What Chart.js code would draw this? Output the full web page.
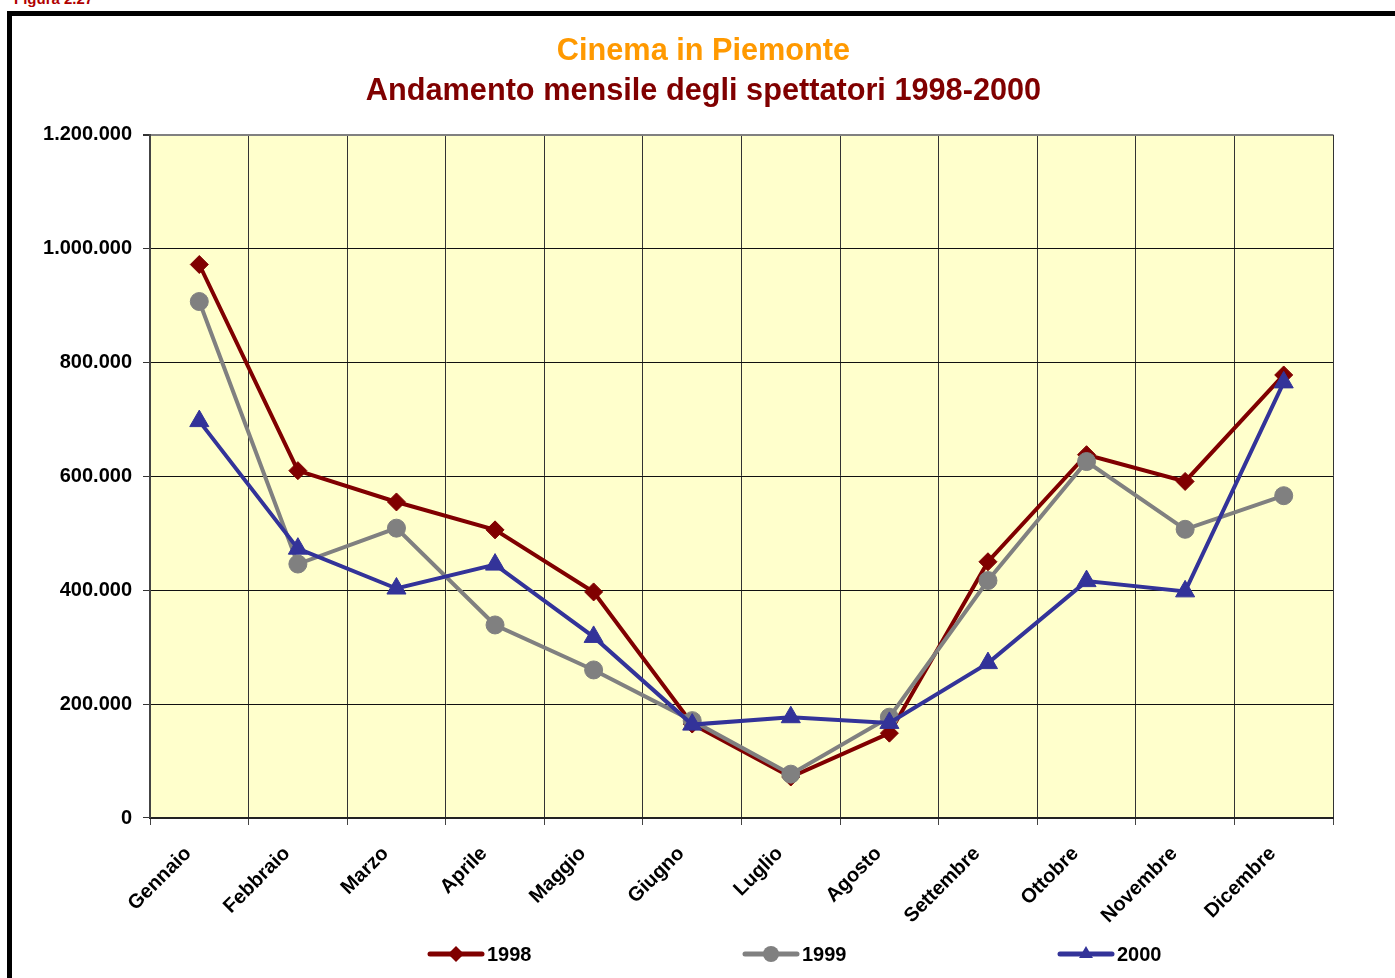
<!DOCTYPE html>
<html>
<head>
<meta charset="utf-8">
<script src="https://cdn.jsdelivr.net/npm/chart.js"></script>
<style>
  html, body { margin: 0; padding: 0; background: #fff; overflow: hidden; width: 1395px; height: 978px; }
  #fig { position: absolute; left: 14px; top: -10px; font: bold 15px "Liberation Sans", Arial, sans-serif; color: #b00000; }
  #frame { position: absolute; left: 7px; top: 11px; width: 1500px; height: 1100px; border: 5px solid #000; box-sizing: border-box; }
  #wrap { position: absolute; left: 12px; top: 16px; width: 1383px; height: 962px; }
</style>
</head>
<body>
<div id="fig">Figura 2.27</div>
<div id="frame"></div>
<div id="wrap"><canvas id="c" width="1383" height="962"></canvas></div>
<script>
const months = ["Gennaio","Febbraio","Marzo","Aprile","Maggio","Giugno","Luglio","Agosto","Settembre","Ottobre","Novembre","Dicembre"];
const seriesNames = ["1998","1999","2000"];
const values1998 = [972000, 610000, 555000, 506000, 397000, 165000, 72000, 149000, 450000, 638000, 591000, 778000];
const values1999 = [907000, 446000, 509000, 339000, 260000, 171000, 77000, 177000, 417000, 626000, 507000, 566000];
const values2000 = [697000, 473000, 403000, 445000, 318000, 164000, 177000, 167000, 272000, 416000, 398000, 765000];
const yMin = 0, yMax = 1200000, yStep = 200000;
const titleText = "Cinema in Piemonte";
const subtitleText = "Andamento mensile degli spettatori 1998-2000";

const FONT = '"Liberation Sans", Arial, sans-serif';
const colors = ["#800000", "#808080", "#333399"];
const styles = ["rectRot", "circle", "triangle"];
const radii = [9, 9, 11];

function fmt(v) { return String(v).replace(/\B(?=(\d{3})+(?!\d))/g, "."); }

const bgPlugin = {
  id: "plotBg",
  beforeDraw(chart) {
    const a = chart.chartArea, ctx = chart.ctx;
    ctx.save();
    ctx.fillStyle = "#FFFFCC";
    ctx.fillRect(a.left, a.top, a.right - a.left, a.bottom - a.top);
    ctx.restore();
  }
};

function drawMarker(ctx, style, x, y, r, color) {
  ctx.save();
  ctx.fillStyle = color;
  ctx.beginPath();
  if (style === "rectRot") {
    ctx.moveTo(x - r, y); ctx.lineTo(x, y - r); ctx.lineTo(x + r, y); ctx.lineTo(x, y + r);
  } else if (style === "circle") {
    ctx.arc(x, y, r, 0, Math.PI * 2);
  } else {
    ctx.moveTo(x, y - r);
    ctx.lineTo(x + r * Math.sqrt(3) / 2, y + r / 2);
    ctx.lineTo(x - r * Math.sqrt(3) / 2, y + r / 2);
  }
  ctx.closePath();
  ctx.fill();
  ctx.restore();
}

const legendPlugin = {
  id: "lineLegend",
  afterDraw(chart) {
    const ctx = chart.ctx;
    const y = chart.height - 24;
    const x0 = chart.chartArea.left + 280;
    chart.data.datasets.forEach((ds, i) => {
      const x = x0 + i * 315;
      ctx.save();
      ctx.strokeStyle = ds.borderColor;
      ctx.lineWidth = 5;
      ctx.lineCap = "round";
      ctx.beginPath();
      ctx.moveTo(x, y); ctx.lineTo(x + 52, y);
      ctx.stroke();
      drawMarker(ctx, styles[i], x + 26, y, 8, ds.borderColor);
      ctx.fillStyle = "#000";
      ctx.font = "bold 20px " + FONT;
      ctx.textBaseline = "middle";
      ctx.textAlign = "left";
      ctx.fillText(ds.label, x + 57, y + 1);
      ctx.restore();
    });
  }
};

const seriesValues = [values1998, values1999, values2000];
const datasets = seriesNames.map((name, i) => ({
  label: name,
  data: seriesValues[i],
  borderColor: colors[i],
  backgroundColor: colors[i],
  pointBackgroundColor: colors[i],
  pointBorderColor: colors[i],
  pointBorderWidth: 1,
  pointStyle: styles[i],
  pointRadius: radii[i],
  pointHoverRadius: radii[i],
  borderWidth: 4,
  tension: 0,
  fill: false,
  order: 2 - i
}));

new Chart(document.getElementById("c"), {
  type: "line",
  data: { labels: months, datasets },
  options: {
    responsive: false,
    animation: false,
    layout: { padding: 0 },
    plugins: {
      legend: { display: false },
      tooltip: { enabled: false },
      title: {
        display: true, text: titleText, color: "#FF9900",
        font: { family: FONT, size: 30.7, weight: "bold" }, padding: { top: 17, bottom: 3 }
      },
      subtitle: {
        display: true, text: subtitleText, color: "#800000",
        font: { family: FONT, size: 30.7, weight: "bold" }, padding: { top: 0, bottom: 25 }
      }
    },
    scales: {
      x: {
        offset: true,
        grid: {
          offset: true,
          color: (c) => c.index === months.length ? "#808080" : "#333",
          lineWidth: (c) => c.index === months.length ? 3 : 1,
          tickLength: 7,
          tickColor: "#444"
        },
        border: { display: true, color: "#222", width: 2 },
        ticks: {
          color: "#000", font: { family: FONT, size: 20, weight: "bold" },
          minRotation: 45, maxRotation: 45, padding: 17, autoSkip: false,
          labelOffset: -11
        },
        afterFit(s) { s.height = 160; }
      },
      y: {
        min: yMin, max: yMax,
        grid: {
          color: (c) => (c.tick && c.tick.value === yMax) ? "#808080" : "#111",
          lineWidth: (c) => (c.tick && c.tick.value === yMax) ? 2 : 1,
          tickLength: 7,
          tickColor: "#333"
        },
        border: { display: true, color: "#444", width: 2 },
        ticks: {
          stepSize: yStep, color: "#000", padding: 11,
          font: { family: FONT, size: 20, weight: "bold" },
          callback: (v) => fmt(v)
        },
        afterFit(s) { s.width = 138; }
      },
      yRightSpace: {
        position: "right",
        display: true,
        grid: { display: false, drawTicks: false },
        border: { display: false },
        ticks: { display: false },
        afterFit(s) { s.width = 62; }
      }
    }
  },
  plugins: [bgPlugin, legendPlugin]
});
</script>
</body>
</html>
